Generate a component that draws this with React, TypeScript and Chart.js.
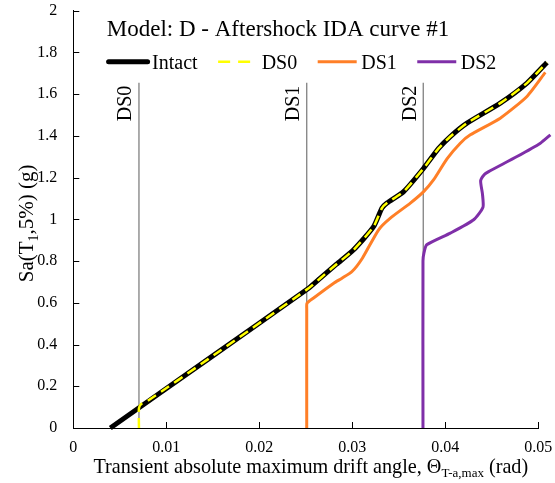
import React, { useEffect, useRef } from 'react';
import { Chart, registerables } from 'chart.js';

Chart.register(...registerables);

const FONT = "'Liberation Serif', 'Times New Roman', Times, serif";
Chart.defaults.font.family = FONT;

const chartTitle = 'Model: D - Aftershock IDA curve #1';

const xTickValues = [0, 0.01, 0.02, 0.03, 0.04, 0.05];
const xTickLabels = ['0', '0.01', '0.02', '0.03', '0.04', '0.05'];
const yTickValues = [0, 0.2, 0.4, 0.6, 0.8, 1, 1.2, 1.4, 1.6, 1.8, 2];
const yTickLabels = ['0', '0.2', '0.4', '0.6', '0.8', '1', '1.2', '1.4', '1.6', '1.8', '2'];

// Intact
const intactX = [0.00398, 0.0145, 0.0253, 0.02656, 0.0283, 0.03014, 0.03229, 0.03319, 0.03373, 0.03552, 0.03767, 0.03928, 0.04054, 0.04233, 0.04591, 0.04878, 0.05093];
const intactY = [0, 0.33, 0.67, 0.718, 0.785, 0.854, 0.965, 1.054, 1.078, 1.133, 1.245, 1.34, 1.397, 1.461, 1.557, 1.653, 1.752];

// DS0
const ds0X = [0.00706, 0.00706, 0.0073, 0.008, 0.0145, 0.0253, 0.02656, 0.0283, 0.03014, 0.03229, 0.03319, 0.03373, 0.03552, 0.03767, 0.03928, 0.04054, 0.04233, 0.04591, 0.04878, 0.05093];
const ds0Y = [0, 0.095, 0.115, 0.13, 0.33, 0.67, 0.718, 0.785, 0.854, 0.965, 1.054, 1.078, 1.133, 1.245, 1.34, 1.397, 1.461, 1.557, 1.653, 1.752];

// DS1
const ds1X = [0.0251, 0.0251, 0.02513, 0.0258, 0.028, 0.02889, 0.02997, 0.0311, 0.03283, 0.03409, 0.03624, 0.03767, 0.03875, 0.04018, 0.04161, 0.04269, 0.04591, 0.04878, 0.05075];
const ds1Y = [0, 0.57, 0.598, 0.622, 0.694, 0.718, 0.75, 0.815, 0.95, 1.006, 1.078, 1.133, 1.19, 1.29, 1.365, 1.405, 1.485, 1.589, 1.704];

// DS2
const ds2X = [0.0376, 0.0376, 0.0377, 0.038, 0.04054, 0.04305, 0.04405, 0.044, 0.0438, 0.0442, 0.04466, 0.04771, 0.05022, 0.0513];
const ds2Y = [0, 0.8, 0.838, 0.878, 0.934, 0.998, 1.058, 1.12, 1.185, 1.215, 1.229, 1.301, 1.365, 1.405];

// Damage-state limit lines
const limitNames = ['DS0', 'DS1', 'DS2'];
const limitX = [0.00706, 0.0251, 0.03763];
const limitTop = 1.655;

const seriesNames = ['Intact', 'DS0', 'DS1', 'DS2'];
const seriesColors = ['#000000', '#FFFF00', '#FF7F27', '#7F2FA8'];

// target plot rectangle (canvas pixels)
const AREA = { left: 73.3, right: 538.3, top: 10.7, bottom: 428 };

const pts = (xs: number[], ys: number[]) => xs.map((x, i) => ({ x, y: ys[i] }));

function drawRich(ctx: CanvasRenderingContext2D, parts: { t: string; sub?: boolean }[], cx: number, baseY: number, size: number) {
  const subSize = Math.round(size * 0.65);
  let total = 0;
  const widths = parts.map((p) => {
    ctx.font = `${p.sub ? subSize : size}px ${FONT}`;
    const w = ctx.measureText(p.t).width;
    total += w;
    return w;
  });
  let x = cx - total / 2;
  ctx.textAlign = 'left';
  ctx.textBaseline = 'alphabetic';
  parts.forEach((p, i) => {
    ctx.font = `${p.sub ? subSize : size}px ${FONT}`;
    ctx.fillText(p.t, x, baseY + (p.sub ? size * 0.22 : 0));
    x += widths[i];
  });
}

const zeroPad = (s: any) => {
  s.paddingTop = 0;
  s.paddingBottom = 0;
  s.paddingLeft = 0;
  s.paddingRight = 0;
};

const decor = {
  id: 'decor',
  afterDraw(chart: any) {
    const { ctx, chartArea: ca, scales } = chart;
    const xs = scales.x;
    const ys = scales.y;
    ctx.save();
    ctx.fillStyle = '#000';
    ctx.strokeStyle = '#000';
    ctx.lineWidth = 1;
    // inward ticks
    xTickValues.forEach((v) => {
      if (v === 0) return;
      const px = Math.round(xs.getPixelForValue(v)) + 0.5;
      ctx.beginPath();
      ctx.moveTo(px, ca.bottom);
      ctx.lineTo(px, ca.bottom - 6);
      ctx.stroke();
    });
    yTickValues.forEach((v) => {
      if (v === 0) return;
      const py = Math.round(ys.getPixelForValue(v)) + 0.5;
      ctx.beginPath();
      ctx.moveTo(ca.left, py);
      ctx.lineTo(ca.left + 6, py);
      ctx.stroke();
    });

    // title
    ctx.font = `23px ${FONT}`;
    ctx.textAlign = 'left';
    ctx.textBaseline = 'alphabetic';
    ctx.fillText(chartTitle, ca.left + 33.5, ca.top + 25);

    // legend
    let lx = ca.left + 35.3;
    const ly = ca.top + 51;
    seriesNames.forEach((name, i) => {
      ctx.save();
      ctx.strokeStyle = seriesColors[i];
      ctx.lineWidth = i === 0 ? 5 : i === 1 ? 2.5 : 3;
      ctx.lineCap = i === 0 ? 'round' : 'butt';
      if (i === 1) ctx.setLineDash([12, 8]);
      ctx.beginPath();
      ctx.moveTo(lx, ly);
      ctx.lineTo(lx + 39, ly);
      ctx.stroke();
      ctx.restore();
      ctx.font = `20px ${FONT}`;
      ctx.fillStyle = '#000';
      ctx.textAlign = 'left';
      ctx.textBaseline = 'alphabetic';
      ctx.fillText(name, lx + 43.5, ly + 7.5);
      lx += 43.5 + ctx.measureText(name).width + 20.5;
    });

    // limit labels
    ctx.font = `20px ${FONT}`;
    limitNames.forEach((name, i) => {
      const px = xs.getPixelForValue(limitX[i]);
      const py = ys.getPixelForValue(limitTop);
      ctx.save();
      ctx.translate(px - 7.5, py + 3);
      ctx.rotate(-Math.PI / 2);
      ctx.textAlign = 'right';
      ctx.textBaseline = 'alphabetic';
      ctx.fillText(name, 0, 0);
      ctx.restore();
    });

    // axis titles
    drawRich(ctx, [
      { t: 'Transient absolute maximum drift angle, \u0398' },
      { t: 'T-a,max', sub: true },
      { t: ' (rad)' },
    ], (ca.left + ca.right) / 2 + 5, ca.bottom + 45, 20.2);

    ctx.save();
    ctx.translate(ca.left - 40, (ca.top + ca.bottom) / 2 + 4);
    ctx.rotate(-Math.PI / 2);
    drawRich(ctx, [{ t: 'Sa(T' }, { t: '1', sub: true }, { t: ',5%) (g)' }], 0, 0, 21);
    ctx.restore();

    ctx.restore();
  },
};

export default function App() {
  const ref = useRef<HTMLCanvasElement | null>(null);
  useEffect(() => {
    if (!ref.current) return;
    const lineBase = { pointRadius: 0, pointHoverRadius: 0, fill: false, clip: false as any, showLine: true };
    const pad = { top: 10.7, right: 16.7, left: 0, bottom: 0 };
    const chart = new Chart(ref.current, {
      type: 'line',
      data: {
        datasets: [
          { ...lineBase, label: 'DS0', data: pts(ds0X, ds0Y), borderColor: seriesColors[1], borderWidth: 2.5, borderDash: [10, 6], tension: 0.2, order: 0 },
          { ...lineBase, label: 'Intact', data: pts(intactX, intactY), borderColor: seriesColors[0], borderWidth: 5, tension: 0.2, order: 1 },
          { ...lineBase, label: 'DS1', data: pts(ds1X, ds1Y), borderColor: seriesColors[2], borderWidth: 3, tension: 0.2, order: 2 },
          { ...lineBase, label: 'DS2', data: pts(ds2X, ds2Y), borderColor: seriesColors[3], borderWidth: 3, tension: 0.2, order: 3 },
          ...limitX.map((lx, i) => ({
            ...lineBase,
            label: 'limit ' + limitNames[i],
            data: [{ x: lx, y: 0 }, { x: lx, y: limitTop }],
            borderColor: '#808080',
            borderWidth: 1.3,
            tension: 0,
            order: 10 + i,
          })),
        ],
      } as any,
      options: {
        animation: false,
        responsive: false,
        maintainAspectRatio: false,
        layout: { padding: { ...pad } },
        plugins: { legend: { display: false }, tooltip: { enabled: false }, title: { display: false } },
        scales: {
          x: {
            type: 'linear',
            min: 0,
            max: 0.05,
            afterBuildTicks: (s: any) => { s.ticks = xTickValues.map((v) => ({ value: v })); },
            afterFit: (s: any) => { s.height = 55; zeroPad(s); },
            ticks: {
              callback: (v: any) => xTickLabels[xTickValues.indexOf(v)] ?? '',
              font: { family: FONT, size: 16 },
              color: '#000',
              padding: 10,
              maxRotation: 0,
              autoSkip: false,
            },
            grid: { display: false, drawTicks: false },
            border: { display: true, color: '#000', width: 1 },
          },
          y: {
            type: 'linear',
            min: 0,
            max: 2,
            afterBuildTicks: (s: any) => { s.ticks = yTickValues.map((v) => ({ value: v })); },
            afterFit: (s: any) => { s.width = 73; zeroPad(s); },
            ticks: {
              callback: (v: any) => yTickLabels[yTickValues.indexOf(v)] ?? '',
              font: { family: FONT, size: 16 },
              color: '#000',
              padding: 16,
              autoSkip: false,
            },
            grid: { display: false, drawTicks: false },
            border: { display: true, color: '#000', width: 1 },
          },
        },
      } as any,
      plugins: [decor],
    });
    // nudge layout padding so the plot rectangle lands where the reference has it
    for (let k = 0; k < 3; k++) {
      const ca = chart.chartArea;
      pad.top += AREA.top - ca.top;
      pad.left += AREA.left - ca.left;
      pad.right += ca.right - AREA.right;
      pad.bottom += ca.bottom - AREA.bottom;
      (chart.options as any).layout.padding = { ...pad };
      chart.update();
    }
    return () => chart.destroy();
  }, []);
  return (
    <div style={{ position: 'absolute', left: 0, top: 0, width: 555, height: 483, background: '#fff' }}>
      <canvas ref={ref} width={555} height={483} style={{ display: 'block' }} />
    </div>
  );
}
